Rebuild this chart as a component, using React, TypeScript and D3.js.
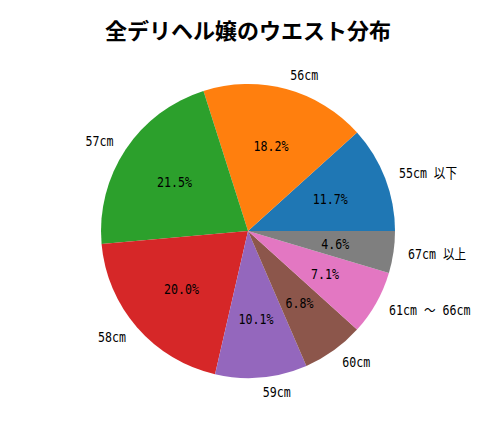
import React, { useEffect, useRef } from 'react';
import * as d3 from 'd3';

const labels = ['55cm 以下', '56cm', '57cm', '58cm', '59cm', '60cm', '61cm 〜 66cm', '67cm 以上'];
const values = [11.7, 18.2, 21.5, 20.0, 10.1, 6.8, 7.1, 4.6];
const colors = ['#1f77b4', '#ff7f0e', '#2ca02c', '#d62728', '#9467bd', '#8c564b', '#e377c2', '#7f7f7f'];
const title = '全デリヘル嬢のウエスト分布';

const App: React.FC = () => {
    const svgRef = useRef<SVGSVGElement | null>(null);

    useEffect(() => {
        if (!svgRef.current) return;
        const svg = d3.select(svgRef.current);
        svg.selectAll('*').remove();

        const cx = 248;
        const cy = 231;
        const radius = 147;
        // narrow monospace look of the original gothic font
        const font = '"DejaVu Sans Mono", "Noto Sans CJK JP", monospace';
        const squeeze = 0.83;

        // matplotlib style: start at 3 o'clock, counterclockwise
        const total = d3.sum(values);
        const angle = d3.scaleLinear().domain([0, total]).range([0, 2 * Math.PI]);
        let acc = 0;
        const slices = values.map((v, i) => {
            const a0 = angle(acc);
            acc += v;
            const a1 = angle(acc);
            return { v, i, a0, a1, mid: (a0 + a1) / 2 };
        });

        // d3 arc angles: 0 at 12 o'clock, clockwise. Convert.
        const toD3 = (a: number) => Math.PI / 2 - a;
        const arc = d3.arc<any>().innerRadius(0).outerRadius(radius);

        const g = svg.append('g').attr('transform', `translate(${cx},${cy})`);

        g.selectAll('path.slice')
            .data(slices)
            .enter()
            .append('path')
            .attr('class', 'slice')
            .attr('d', (d) => arc({ startAngle: toD3(d.a1), endAngle: toD3(d.a0) }) as string)
            .style('fill', (d) => colors[d.i])
            .style('stroke', 'none');

        // outer labels
        g.selectAll('g.label')
            .data(slices)
            .enter()
            .append('g')
            .attr('class', 'label')
            .attr('transform', (d) => `translate(${1.1 * radius * Math.cos(d.mid)},${-1.1 * radius * Math.sin(d.mid)}) scale(${squeeze},1)`)
            .append('text')
            .attr('dy', '0.35em')
            .attr('text-anchor', (d) => (Math.cos(d.mid) > 0 ? 'start' : 'end'))
            .style('font-family', font)
            .style('font-size', '14px')
            .style('fill', '#000')
            .text((d) => labels[d.i]);

        // percentage labels
        g.selectAll('g.pct')
            .data(slices)
            .enter()
            .append('g')
            .attr('class', 'pct')
            .attr('transform', (d) => `translate(${0.6 * radius * Math.cos(d.mid)},${-0.6 * radius * Math.sin(d.mid)}) scale(${squeeze},1)`)
            .append('text')
            .attr('dy', '0.35em')
            .attr('text-anchor', 'middle')
            .style('font-family', font)
            .style('font-size', '14px')
            .style('fill', '#000')
            .text((d) => d3.format('.1f')(d.v) + '%');

        svg.append('text')
            .attr('x', cx)
            .attr('y', 31)
            .attr('dy', '0.35em')
            .attr('text-anchor', 'middle')
            .style('font-family', '"Noto Sans CJK JP", sans-serif')
            .style('font-weight', 'bold')
            .style('font-size', '22px')
            .text(title);
    }, []);

    return (
        <svg ref={svgRef} width={497} height={421} style={{ position: 'absolute', left: 0, top: 0, background: '#fff' }}>
        </svg>
    );
};

export default App;
